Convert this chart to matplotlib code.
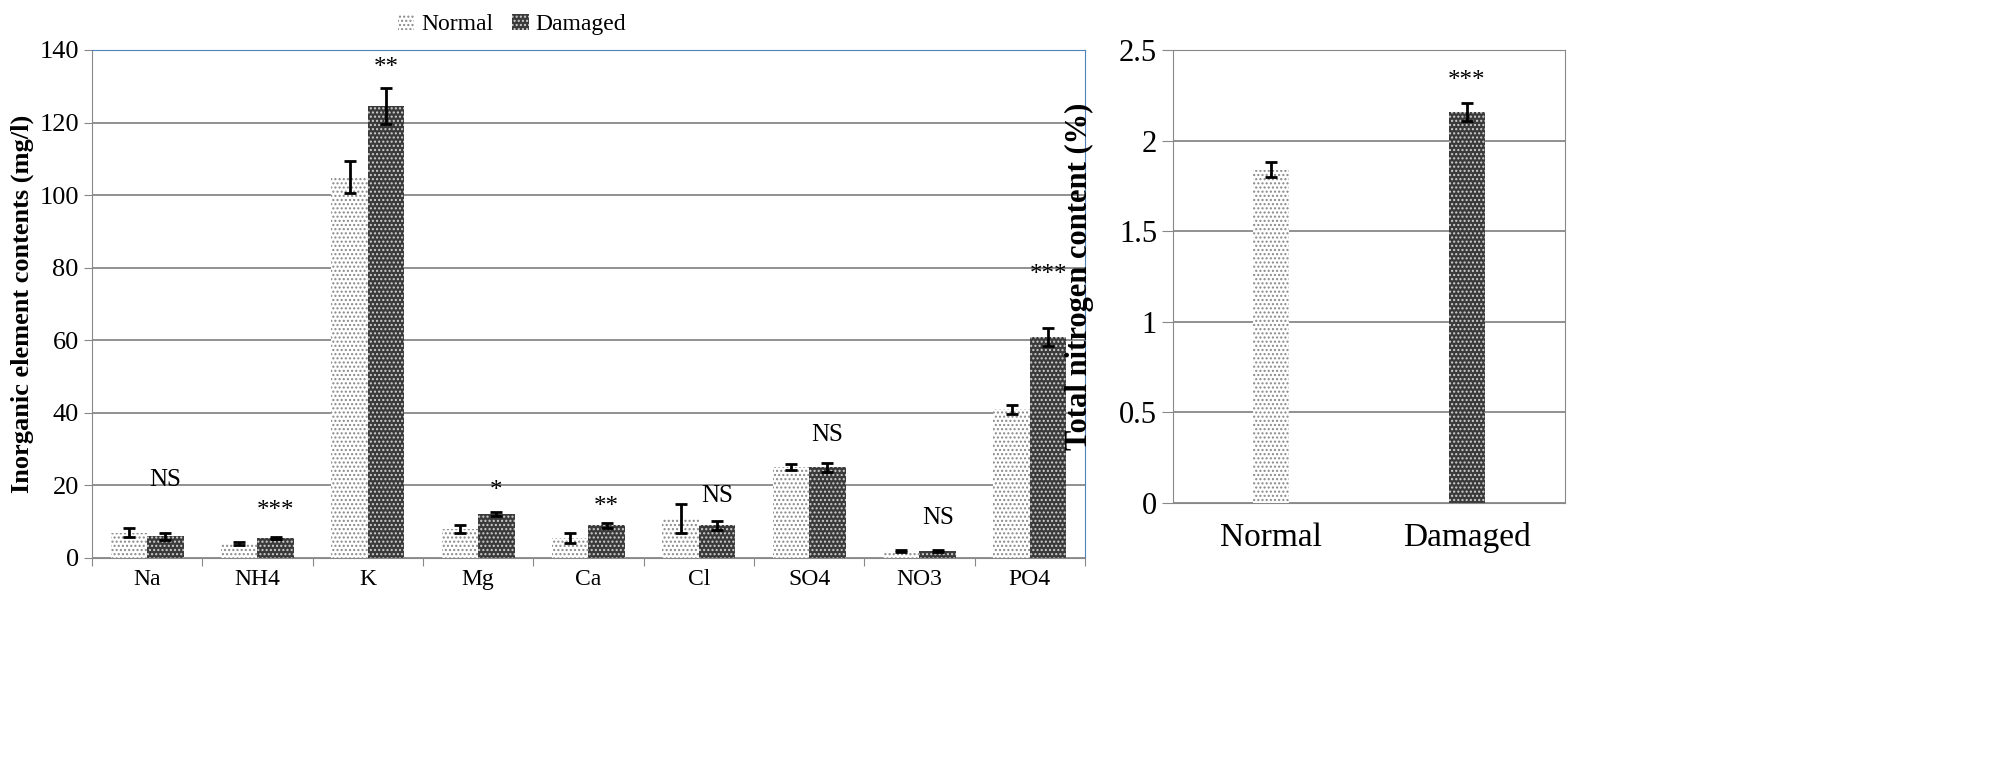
import matplotlib
matplotlib.use("Agg")
import matplotlib.pyplot as plt
import numpy as np
from matplotlib.patches import Patch

plt.rcParams["font.family"] = "Liberation Serif"
plt.rcParams["hatch.linewidth"] = 1.0

elements = ["Na", "NH4", "K", "Mg", "Ca", "Cl", "SO4", "NO3", "PO4"]
normal = [7, 4, 105, 8, 5.5, 11, 25, 2, 41]
normal_err = [1.2, 0.5, 4.5, 1.2, 1.5, 4, 0.8, 0.3, 1.2]
damaged = [6, 5.5, 124.5, 12.2, 9, 9, 25, 2, 61]
damaged_err = [1.0, 0.4, 5.0, 0.5, 0.6, 1.2, 1.2, 0.3, 2.5]
sig = ["NS", "***", "**", "*", "**", "NS", "NS", "NS", "***"]
sig_y = [21.5, 13, 135, 18.5, 14, 17, 34, 11, 78]

groups = ["Normal", "Damaged"]
tn = [1.84, 2.16]
tn_err = [0.04, 0.05]

NORM = dict(facecolor="white", edgecolor="#888888", hatch="....", linewidth=0)
DAM = dict(facecolor="#3a3a3a", edgecolor="#d0d0d0", hatch="....", linewidth=0)
ERR = dict(ecolor="black", elinewidth=2, capsize=4, capthick=2)

fig = plt.figure(figsize=(20.08, 7.67), dpi=100)
ax1 = fig.add_axes([92 / 2008, 1 - 558 / 767, 993 / 2008, 508 / 767])
ax2 = fig.add_axes([1173 / 2008, 1 - 503 / 767, 392 / 2008, 453 / 767])

x = np.arange(len(elements))
w = 0.33
ax1.bar(x - w / 2, normal, w, yerr=normal_err, error_kw=ERR, **NORM)
ax1.bar(x + w / 2, damaged, w, yerr=damaged_err, error_kw=ERR, **DAM)
for xi, s, y in zip(x, sig, sig_y):
    ax1.text(xi + w / 2, y, s, ha="center", va="center", fontsize=18)
ax1.set_xlim(-0.5, len(elements) - 0.5)
ax1.set_ylim(0, 140)
ax1.set_yticks(range(0, 141, 20))
ax1.set_xticks(np.arange(-0.5, len(elements), 1), minor=False)
ax1.set_xticklabels([])
ax1.set_xticks(x, minor=True)
ax1.set_xticklabels(elements, minor=True, fontsize=17)
ax1.tick_params(axis="x", which="minor", length=0, pad=8)
ax1.tick_params(axis="x", which="major", length=6, color="#888888")
ax1.tick_params(axis="y", labelsize=19, length=6, color="#888888")
ax1.yaxis.grid(True, color="#888888", linewidth=1.3)
ax1.set_axisbelow(True)
for s in ["top", "right"]:
    ax1.spines[s].set_color("#4f81bd")
for s in ["left", "bottom"]:
    ax1.spines[s].set_color("#888888")
ax1.set_ylabel("Inorganic element contents (mg/l)", fontsize=19, fontweight="bold")

xr = np.arange(len(groups))
ax2.bar(xr[0], tn[0], 0.18, yerr=tn_err[0], error_kw=ERR, **NORM)
ax2.bar(xr[1], tn[1], 0.18, yerr=tn_err[1], error_kw=ERR, **DAM)
ax2.text(xr[1], 2.33, "***", ha="center", va="center", fontsize=18)
ax2.set_xlim(-0.5, 1.5)
ax2.set_ylim(0, 2.5)
ax2.set_yticks([0, 0.5, 1, 1.5, 2, 2.5])
ax2.set_yticklabels(["0", "0.5", "1", "1.5", "2", "2.5"])
ax2.set_xticks(xr)
ax2.set_xticklabels(groups, fontsize=24)
ax2.tick_params(axis="x", length=0, pad=14)
ax2.tick_params(axis="y", labelsize=22, length=8, color="#888888")
ax2.yaxis.grid(True, color="#888888", linewidth=1.3)
ax2.set_axisbelow(True)
for s in ["top", "right", "bottom", "left"]:
    ax2.spines[s].set_color("#888888")
ax2.set_ylabel("Total nitrogen content (%)", fontsize=22, fontweight="bold", labelpad=18)

handles = [Patch(**NORM), Patch(**DAM)]
fig.legend(handles, groups, loc="upper center", bbox_to_anchor=(0.255, 1.01), ncol=2,
           frameon=False, fontsize=17, handlelength=0.7, handleheight=0.7,
           columnspacing=0.8, handletextpad=0.3)

fig.savefig("out.png", dpi=100)
